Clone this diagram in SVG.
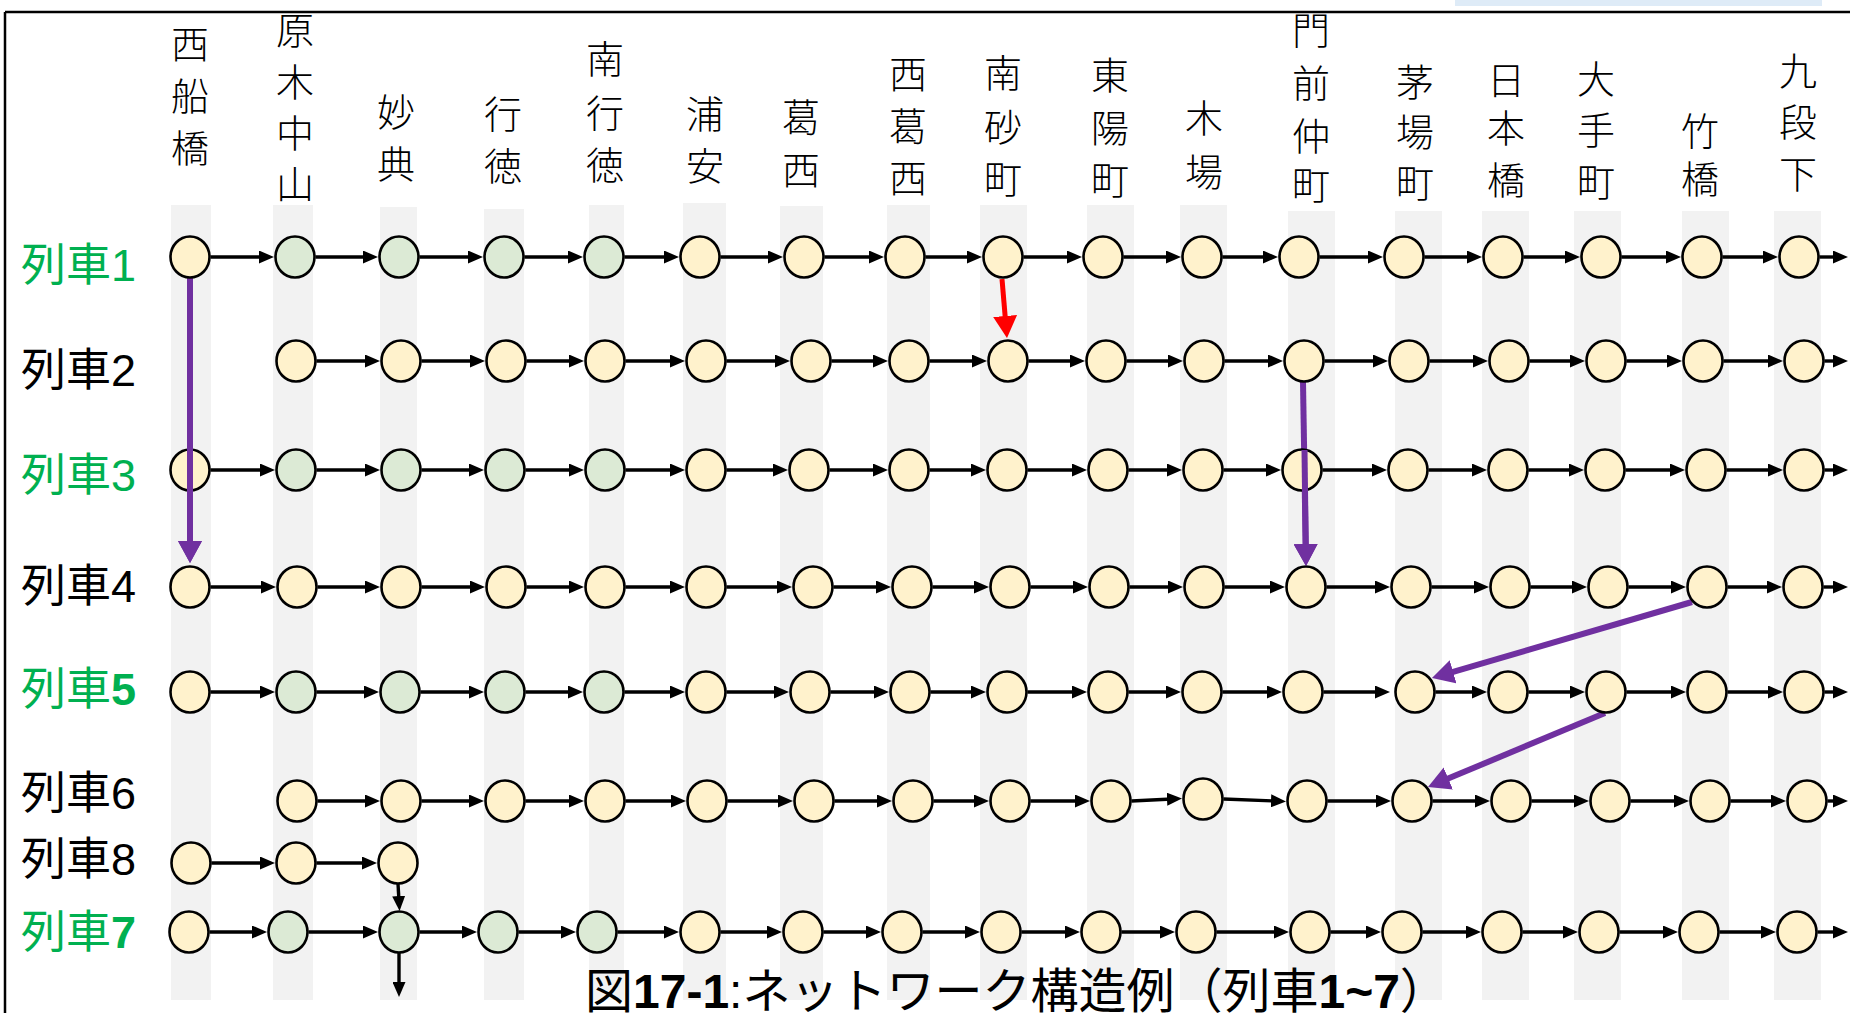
<svg xmlns="http://www.w3.org/2000/svg" width="1850" height="1013" viewBox="0 0 1850 1013">
<style>
.bg{fill:#F2F2F2}
.n{stroke:#000;stroke-width:2.6}
.y{fill:#FFF2CC}
.g{fill:#DCEAD5}
.a{stroke:#000;stroke-width:3.4;fill:none;marker-end:url(#ah)}
.p{stroke:#7030A0;stroke-width:6;fill:none;marker-end:url(#ahp)}
.r{stroke:#FF0000;stroke-width:5;fill:none;marker-end:url(#ahr)}
.st{font-family:"Noto Sans CJK JP","Noto Sans CJK SC",sans-serif;font-size:38px;font-weight:300;text-anchor:middle;fill:#000}
.tl{font-family:"Liberation Sans","Noto Sans CJK JP",sans-serif;font-size:45px;fill:#000}
.gr{fill:#00B050}
.cap{font-family:"Liberation Sans","Noto Sans CJK JP",sans-serif;font-size:48px;fill:#000}
</style>
<defs>
<marker id="ah" markerUnits="userSpaceOnUse" markerWidth="15" markerHeight="13" refX="5" refY="6.5" orient="auto" viewBox="0 0 15 13"><path d="M0,0 L15,6.5 L0,13 z" fill="#000"/></marker>
<marker id="ahp" markerUnits="userSpaceOnUse" markerWidth="22" markerHeight="24" refX="8" refY="12" orient="auto" viewBox="0 0 22 24"><path d="M0,0 L22,12 L0,24 z" fill="#7030A0"/></marker>
<marker id="ahr" markerUnits="userSpaceOnUse" markerWidth="22" markerHeight="24" refX="8" refY="12" orient="auto" viewBox="0 0 22 24"><path d="M0,0 L22,12 L0,24 z" fill="#FF0000"/></marker>
</defs>
<rect x="0" y="0" width="1850" height="1013" fill="#fff"/>
<rect x="1455" y="0" width="367" height="6" fill="#DEEBF7"/>
<g id="frame" stroke="#000" stroke-width="2.5" fill="none">
<line x1="5" y1="12" x2="1850" y2="12"/>
<line x1="5" y1="12" x2="5" y2="1013"/>
</g>
<g id="bands">
<rect class="bg" x="171" y="205" width="40" height="795"/>
<rect class="bg" x="273" y="205" width="40" height="795"/>
<rect class="bg" x="380" y="207" width="37" height="793"/>
<rect class="bg" x="484" y="209" width="40" height="791"/>
<rect class="bg" x="589" y="205" width="35" height="795"/>
<rect class="bg" x="683" y="203" width="43" height="797"/>
<rect class="bg" x="780" y="206" width="43" height="794"/>
<rect class="bg" x="887" y="205" width="43" height="795"/>
<rect class="bg" x="980" y="205" width="47" height="795"/>
<rect class="bg" x="1087" y="205" width="47" height="795"/>
<rect class="bg" x="1180" y="205" width="47" height="795"/>
<rect class="bg" x="1288" y="211" width="47" height="789"/>
<rect class="bg" x="1395" y="211" width="47" height="789"/>
<rect class="bg" x="1482" y="211" width="47" height="789"/>
<rect class="bg" x="1574" y="211" width="47" height="789"/>
<rect class="bg" x="1682" y="211" width="47" height="789"/>
<rect class="bg" x="1774" y="211" width="47" height="789"/>
</g>
<g id="stations">
<text class="st"><tspan x="190" y="58">西</tspan><tspan x="190" y="110">船</tspan><tspan x="190" y="162">橋</tspan></text>
<text class="st"><tspan x="295" y="44">原</tspan><tspan x="295" y="96">木</tspan><tspan x="295" y="147">中</tspan><tspan x="295" y="198">山</tspan></text>
<text class="st"><tspan x="396" y="126">妙</tspan><tspan x="396" y="178">典</tspan></text>
<text class="st"><tspan x="503" y="128">行</tspan><tspan x="503" y="180">徳</tspan></text>
<text class="st"><tspan x="605" y="73">南</tspan><tspan x="605" y="127">行</tspan><tspan x="605" y="179">徳</tspan></text>
<text class="st"><tspan x="705" y="128">浦</tspan><tspan x="705" y="180">安</tspan></text>
<text class="st"><tspan x="801" y="131">葛</tspan><tspan x="801" y="184">西</tspan></text>
<text class="st"><tspan x="908" y="88">西</tspan><tspan x="908" y="140">葛</tspan><tspan x="908" y="192">西</tspan></text>
<text class="st"><tspan x="1003" y="87">南</tspan><tspan x="1003" y="141">砂</tspan><tspan x="1003" y="193">町</tspan></text>
<text class="st"><tspan x="1110" y="89">東</tspan><tspan x="1110" y="142">陽</tspan><tspan x="1110" y="194">町</tspan></text>
<text class="st"><tspan x="1204" y="132">木</tspan><tspan x="1204" y="186">場</tspan></text>
<text class="st"><tspan x="1311" y="44">門</tspan><tspan x="1311" y="97">前</tspan><tspan x="1311" y="150">仲</tspan><tspan x="1311" y="199">町</tspan></text>
<text class="st"><tspan x="1415" y="96">茅</tspan><tspan x="1415" y="146">場</tspan><tspan x="1415" y="197">町</tspan></text>
<text class="st"><tspan x="1506" y="94">日</tspan><tspan x="1506" y="142">本</tspan><tspan x="1506" y="194">橋</tspan></text>
<text class="st"><tspan x="1596" y="93">大</tspan><tspan x="1596" y="144">手</tspan><tspan x="1596" y="196">町</tspan></text>
<text class="st"><tspan x="1700" y="145">竹</tspan><tspan x="1700" y="193">橋</tspan></text>
<text class="st"><tspan x="1798" y="85">九</tspan><tspan x="1798" y="136">段</tspan><tspan x="1798" y="188">下</tspan></text>
</g>
<g id="trains">
<text class="tl gr" x="21" y="281">列車1</text>
<text class="tl" x="21" y="386">列車2</text>
<text class="tl gr" x="21" y="491">列車3</text>
<text class="tl" x="21" y="602">列車4</text>
<text class="tl gr" x="21" y="705">列車<tspan font-weight="bold">5</tspan></text>
<text class="tl" x="21" y="809">列車6</text>
<text class="tl" x="21" y="875">列車8</text>
<text class="tl gr" x="21" y="948">列車<tspan font-weight="bold">7</tspan></text>
</g>
<g id="connectors">
<line class="a" x1="210.5" y1="257" x2="264" y2="257"/>
<line class="a" x1="315.5" y1="257" x2="368" y2="257"/>
<line class="a" x1="419.5" y1="257" x2="473" y2="257"/>
<line class="a" x1="524.5" y1="257" x2="573" y2="257"/>
<line class="a" x1="624.5" y1="257" x2="669" y2="257"/>
<line class="a" x1="720.5" y1="257" x2="773" y2="257"/>
<line class="a" x1="824.5" y1="257" x2="874" y2="257"/>
<line class="a" x1="925.5" y1="257" x2="972" y2="257"/>
<line class="a" x1="1023.5" y1="257" x2="1072" y2="257"/>
<line class="a" x1="1123.5" y1="257" x2="1171" y2="257"/>
<line class="a" x1="1222.5" y1="257" x2="1268" y2="257"/>
<line class="a" x1="1319.5" y1="257" x2="1373" y2="257"/>
<line class="a" x1="1424.5" y1="257" x2="1472" y2="257"/>
<line class="a" x1="1523.5" y1="257" x2="1570" y2="257"/>
<line class="a" x1="1621.5" y1="257" x2="1671" y2="257"/>
<line class="a" x1="1722.5" y1="257" x2="1768" y2="257"/>
<line class="a" x1="1819.5" y1="257" x2="1838" y2="257"/>

<line class="a" x1="316.5" y1="361" x2="370" y2="361"/>
<line class="a" x1="421.5" y1="361" x2="475" y2="361"/>
<line class="a" x1="526.5" y1="361" x2="574" y2="361"/>
<line class="a" x1="625.5" y1="361" x2="675" y2="361"/>
<line class="a" x1="726.5" y1="361" x2="780" y2="361"/>
<line class="a" x1="831.5" y1="361" x2="878" y2="361"/>
<line class="a" x1="929.5" y1="361" x2="977" y2="361"/>
<line class="a" x1="1028.5" y1="361" x2="1075" y2="361"/>
<line class="a" x1="1126.5" y1="361" x2="1173" y2="361"/>
<line class="a" x1="1224.5" y1="361" x2="1273" y2="361"/>
<line class="a" x1="1324.5" y1="361" x2="1378" y2="361"/>
<line class="a" x1="1429.5" y1="361" x2="1478" y2="361"/>
<line class="a" x1="1529.5" y1="361" x2="1575" y2="361"/>
<line class="a" x1="1626.5" y1="361" x2="1672" y2="361"/>
<line class="a" x1="1723.5" y1="361" x2="1773" y2="361"/>
<line class="a" x1="1824.5" y1="361" x2="1838" y2="361"/>

<line class="a" x1="210.5" y1="470" x2="265" y2="470"/>
<line class="a" x1="316.5" y1="470" x2="370" y2="470"/>
<line class="a" x1="421.5" y1="470" x2="474" y2="470"/>
<line class="a" x1="525.5" y1="470" x2="574" y2="470"/>
<line class="a" x1="625.5" y1="470" x2="675" y2="470"/>
<line class="a" x1="726.5" y1="470" x2="778" y2="470"/>
<line class="a" x1="829.5" y1="470" x2="878" y2="470"/>
<line class="a" x1="929.5" y1="470" x2="976" y2="470"/>
<line class="a" x1="1027.5" y1="470" x2="1077" y2="470"/>
<line class="a" x1="1128.5" y1="470" x2="1172" y2="470"/>
<line class="a" x1="1223.5" y1="470" x2="1271" y2="470"/>
<line class="a" x1="1322.5" y1="470" x2="1377" y2="470"/>
<line class="a" x1="1428.5" y1="470" x2="1477" y2="470"/>
<line class="a" x1="1528.5" y1="470" x2="1574" y2="470"/>
<line class="a" x1="1625.5" y1="470" x2="1675" y2="470"/>
<line class="a" x1="1726.5" y1="470" x2="1773" y2="470"/>
<line class="a" x1="1824.5" y1="470" x2="1838" y2="470"/>

<line class="a" x1="210.5" y1="587" x2="266" y2="587"/>
<line class="a" x1="317.5" y1="587" x2="370" y2="587"/>
<line class="a" x1="421.5" y1="587" x2="475" y2="587"/>
<line class="a" x1="526.5" y1="587" x2="574" y2="587"/>
<line class="a" x1="625.5" y1="587" x2="675" y2="587"/>
<line class="a" x1="726.5" y1="587" x2="782" y2="587"/>
<line class="a" x1="833.5" y1="587" x2="881" y2="587"/>
<line class="a" x1="932.5" y1="587" x2="979" y2="587"/>
<line class="a" x1="1030.5" y1="587" x2="1078" y2="587"/>
<line class="a" x1="1129.5" y1="587" x2="1173" y2="587"/>
<line class="a" x1="1224.5" y1="587" x2="1275" y2="587"/>
<line class="a" x1="1326.5" y1="587" x2="1380" y2="587"/>
<line class="a" x1="1431.5" y1="587" x2="1479" y2="587"/>
<line class="a" x1="1530.5" y1="587" x2="1577" y2="587"/>
<line class="a" x1="1628.5" y1="587" x2="1676" y2="587"/>
<line class="a" x1="1727.5" y1="587" x2="1772" y2="587"/>
<line class="a" x1="1823.5" y1="587" x2="1838" y2="587"/>

<line class="a" x1="210.5" y1="692" x2="265" y2="692"/>
<line class="a" x1="316.5" y1="692" x2="369" y2="692"/>
<line class="a" x1="420.5" y1="692" x2="474" y2="692"/>
<line class="a" x1="525.5" y1="692" x2="573" y2="692"/>
<line class="a" x1="624.5" y1="692" x2="675" y2="692"/>
<line class="a" x1="726.5" y1="692" x2="779" y2="692"/>
<line class="a" x1="830.5" y1="692" x2="879" y2="692"/>
<line class="a" x1="930.5" y1="692" x2="976" y2="692"/>
<line class="a" x1="1027.5" y1="692" x2="1077" y2="692"/>
<line class="a" x1="1128.5" y1="692" x2="1171" y2="692"/>
<line class="a" x1="1222.5" y1="692" x2="1272" y2="692"/>
<line class="a" x1="1323.5" y1="692" x2="1380" y2="692"/>
<line class="a" x1="1435.5" y1="692" x2="1477" y2="692"/>
<line class="a" x1="1528.5" y1="692" x2="1575" y2="692"/>
<line class="a" x1="1626.5" y1="692" x2="1676" y2="692"/>
<line class="a" x1="1727.5" y1="692" x2="1773" y2="692"/>
<line class="a" x1="1824.5" y1="692" x2="1838" y2="692"/>

<line class="a" x1="317.5" y1="801" x2="370" y2="801"/>
<line class="a" x1="421.5" y1="801" x2="474" y2="801"/>
<line class="a" x1="525.5" y1="801" x2="574" y2="801"/>
<line class="a" x1="625.5" y1="801" x2="676" y2="801"/>
<line class="a" x1="727.5" y1="801" x2="783" y2="801"/>
<line class="a" x1="834.5" y1="801" x2="882" y2="801"/>
<line class="a" x1="933.5" y1="801" x2="979" y2="801"/>
<line class="a" x1="1030.5" y1="801" x2="1080" y2="801"/>
<line class="a" x1="1131.5" y1="801" x2="1172" y2="799"/>
<line class="a" x1="1223.5" y1="799" x2="1276" y2="801"/>
<line class="a" x1="1327.5" y1="801" x2="1381" y2="801"/>
<line class="a" x1="1432.5" y1="801" x2="1480" y2="801"/>
<line class="a" x1="1531.5" y1="801" x2="1579" y2="801"/>
<line class="a" x1="1630.5" y1="801" x2="1679" y2="801"/>
<line class="a" x1="1730.5" y1="801" x2="1776" y2="801"/>
<line class="a" x1="1827.5" y1="801" x2="1838" y2="801"/>

<line class="a" x1="211.5" y1="863" x2="265" y2="863"/>
<line class="a" x1="316.5" y1="863" x2="367" y2="863"/>
<line class="a" x1="398" y1="884" x2="399" y2="901"/>

<line class="a" x1="209.5" y1="932" x2="257" y2="932"/>
<line class="a" x1="308.5" y1="932" x2="368" y2="932"/>
<line class="a" x1="419.5" y1="932" x2="467" y2="932"/>
<line class="a" x1="518.5" y1="932" x2="566" y2="932"/>
<line class="a" x1="617.5" y1="932" x2="669" y2="932"/>
<line class="a" x1="720.5" y1="932" x2="772" y2="932"/>
<line class="a" x1="823.5" y1="932" x2="871" y2="932"/>
<line class="a" x1="922.5" y1="932" x2="970" y2="932"/>
<line class="a" x1="1021.5" y1="932" x2="1070" y2="932"/>
<line class="a" x1="1121.5" y1="932" x2="1165" y2="932"/>
<line class="a" x1="1216.5" y1="932" x2="1279" y2="932"/>
<line class="a" x1="1330.5" y1="932" x2="1371" y2="932"/>
<line class="a" x1="1422.5" y1="932" x2="1471" y2="932"/>
<line class="a" x1="1522.5" y1="932" x2="1568" y2="932"/>
<line class="a" x1="1619.5" y1="932" x2="1668" y2="932"/>
<line class="a" x1="1719.5" y1="932" x2="1766" y2="932"/>
<line class="a" x1="1817.5" y1="932" x2="1838" y2="932"/>
<line class="a" x1="399" y1="953" x2="399" y2="987"/>

<line class="r" x1="1002" y1="279" x2="1005.8" y2="324"/>
<line class="p" x1="190" y1="278" x2="190" y2="549"/>
<line class="p" x1="1303" y1="382" x2="1305.8" y2="552"/>
<line class="p" x1="1692" y1="602" x2="1445.4" y2="674.1"/>
<line class="p" x1="1605" y1="713" x2="1440.9" y2="781.6"/>
</g>
<g id="r1">
<g id="n1-1"><ellipse class="n y" cx="190" cy="257" rx="19.5" ry="20.5"/></g>
<g id="n1-2"><ellipse class="n g" cx="295" cy="257" rx="19.5" ry="20.5"/></g>
<g id="n1-3"><ellipse class="n g" cx="399" cy="257" rx="19.5" ry="20.5"/></g>
<g id="n1-4"><ellipse class="n g" cx="504" cy="257" rx="19.5" ry="20.5"/></g>
<g id="n1-5"><ellipse class="n g" cx="604" cy="257" rx="19.5" ry="20.5"/></g>
<g id="n1-6"><ellipse class="n y" cx="700" cy="257" rx="19.5" ry="20.5"/></g>
<g id="n1-7"><ellipse class="n y" cx="804" cy="257" rx="19.5" ry="20.5"/></g>
<g id="n1-8"><ellipse class="n y" cx="905" cy="257" rx="19.5" ry="20.5"/></g>
<g id="n1-9"><ellipse class="n y" cx="1003" cy="257" rx="19.5" ry="20.5"/></g>
<g id="n1-10"><ellipse class="n y" cx="1103" cy="257" rx="19.5" ry="20.5"/></g>
<g id="n1-11"><ellipse class="n y" cx="1202" cy="257" rx="19.5" ry="20.5"/></g>
<g id="n1-12"><ellipse class="n y" cx="1299" cy="257" rx="19.5" ry="20.5"/></g>
<g id="n1-13"><ellipse class="n y" cx="1404" cy="257" rx="19.5" ry="20.5"/></g>
<g id="n1-14"><ellipse class="n y" cx="1503" cy="257" rx="19.5" ry="20.5"/></g>
<g id="n1-15"><ellipse class="n y" cx="1601" cy="257" rx="19.5" ry="20.5"/></g>
<g id="n1-16"><ellipse class="n y" cx="1702" cy="257" rx="19.5" ry="20.5"/></g>
<g id="n1-17"><ellipse class="n y" cx="1799" cy="257" rx="19.5" ry="20.5"/></g>
</g>
<g id="r2">
<g id="n2-2"><ellipse class="n y" cx="296" cy="361" rx="19.5" ry="20.5"/></g>
<g id="n2-3"><ellipse class="n y" cx="401" cy="361" rx="19.5" ry="20.5"/></g>
<g id="n2-4"><ellipse class="n y" cx="506" cy="361" rx="19.5" ry="20.5"/></g>
<g id="n2-5"><ellipse class="n y" cx="605" cy="361" rx="19.5" ry="20.5"/></g>
<g id="n2-6"><ellipse class="n y" cx="706" cy="361" rx="19.5" ry="20.5"/></g>
<g id="n2-7"><ellipse class="n y" cx="811" cy="361" rx="19.5" ry="20.5"/></g>
<g id="n2-8"><ellipse class="n y" cx="909" cy="361" rx="19.5" ry="20.5"/></g>
<g id="n2-9"><ellipse class="n y" cx="1008" cy="361" rx="19.5" ry="20.5"/></g>
<g id="n2-10"><ellipse class="n y" cx="1106" cy="361" rx="19.5" ry="20.5"/></g>
<g id="n2-11"><ellipse class="n y" cx="1204" cy="361" rx="19.5" ry="20.5"/></g>
<g id="n2-12"><ellipse class="n y" cx="1304" cy="361" rx="19.5" ry="20.5"/></g>
<g id="n2-13"><ellipse class="n y" cx="1409" cy="361" rx="19.5" ry="20.5"/></g>
<g id="n2-14"><ellipse class="n y" cx="1509" cy="361" rx="19.5" ry="20.5"/></g>
<g id="n2-15"><ellipse class="n y" cx="1606" cy="361" rx="19.5" ry="20.5"/></g>
<g id="n2-16"><ellipse class="n y" cx="1703" cy="361" rx="19.5" ry="20.5"/></g>
<g id="n2-17"><ellipse class="n y" cx="1804" cy="361" rx="19.5" ry="20.5"/></g>
</g>
<g id="r3">
<g id="n3-1"><ellipse class="n y" cx="190" cy="470" rx="19.5" ry="20.5"/></g>
<g id="n3-2"><ellipse class="n g" cx="296" cy="470" rx="19.5" ry="20.5"/></g>
<g id="n3-3"><ellipse class="n g" cx="401" cy="470" rx="19.5" ry="20.5"/></g>
<g id="n3-4"><ellipse class="n g" cx="505" cy="470" rx="19.5" ry="20.5"/></g>
<g id="n3-5"><ellipse class="n g" cx="605" cy="470" rx="19.5" ry="20.5"/></g>
<g id="n3-6"><ellipse class="n y" cx="706" cy="470" rx="19.5" ry="20.5"/></g>
<g id="n3-7"><ellipse class="n y" cx="809" cy="470" rx="19.5" ry="20.5"/></g>
<g id="n3-8"><ellipse class="n y" cx="909" cy="470" rx="19.5" ry="20.5"/></g>
<g id="n3-9"><ellipse class="n y" cx="1007" cy="470" rx="19.5" ry="20.5"/></g>
<g id="n3-10"><ellipse class="n y" cx="1108" cy="470" rx="19.5" ry="20.5"/></g>
<g id="n3-11"><ellipse class="n y" cx="1203" cy="470" rx="19.5" ry="20.5"/></g>
<g id="n3-12"><ellipse class="n y" cx="1302" cy="470" rx="19.5" ry="20.5"/></g>
<g id="n3-13"><ellipse class="n y" cx="1408" cy="470" rx="19.5" ry="20.5"/></g>
<g id="n3-14"><ellipse class="n y" cx="1508" cy="470" rx="19.5" ry="20.5"/></g>
<g id="n3-15"><ellipse class="n y" cx="1605" cy="470" rx="19.5" ry="20.5"/></g>
<g id="n3-16"><ellipse class="n y" cx="1706" cy="470" rx="19.5" ry="20.5"/></g>
<g id="n3-17"><ellipse class="n y" cx="1804" cy="470" rx="19.5" ry="20.5"/></g>
</g>
<g id="r4">
<g id="n4-1"><ellipse class="n y" cx="190" cy="587" rx="19.5" ry="20.5"/></g>
<g id="n4-2"><ellipse class="n y" cx="297" cy="587" rx="19.5" ry="20.5"/></g>
<g id="n4-3"><ellipse class="n y" cx="401" cy="587" rx="19.5" ry="20.5"/></g>
<g id="n4-4"><ellipse class="n y" cx="506" cy="587" rx="19.5" ry="20.5"/></g>
<g id="n4-5"><ellipse class="n y" cx="605" cy="587" rx="19.5" ry="20.5"/></g>
<g id="n4-6"><ellipse class="n y" cx="706" cy="587" rx="19.5" ry="20.5"/></g>
<g id="n4-7"><ellipse class="n y" cx="813" cy="587" rx="19.5" ry="20.5"/></g>
<g id="n4-8"><ellipse class="n y" cx="912" cy="587" rx="19.5" ry="20.5"/></g>
<g id="n4-9"><ellipse class="n y" cx="1010" cy="587" rx="19.5" ry="20.5"/></g>
<g id="n4-10"><ellipse class="n y" cx="1109" cy="587" rx="19.5" ry="20.5"/></g>
<g id="n4-11"><ellipse class="n y" cx="1204" cy="587" rx="19.5" ry="20.5"/></g>
<g id="n4-12"><ellipse class="n y" cx="1306" cy="587" rx="19.5" ry="20.5"/></g>
<g id="n4-13"><ellipse class="n y" cx="1411" cy="587" rx="19.5" ry="20.5"/></g>
<g id="n4-14"><ellipse class="n y" cx="1510" cy="587" rx="19.5" ry="20.5"/></g>
<g id="n4-15"><ellipse class="n y" cx="1608" cy="587" rx="19.5" ry="20.5"/></g>
<g id="n4-16"><ellipse class="n y" cx="1707" cy="587" rx="19.5" ry="20.5"/></g>
<g id="n4-17"><ellipse class="n y" cx="1803" cy="587" rx="19.5" ry="20.5"/></g>
</g>
<g id="r5">
<g id="n5-1"><ellipse class="n y" cx="190" cy="692" rx="19.5" ry="20.5"/></g>
<g id="n5-2"><ellipse class="n g" cx="296" cy="692" rx="19.5" ry="20.5"/></g>
<g id="n5-3"><ellipse class="n g" cx="400" cy="692" rx="19.5" ry="20.5"/></g>
<g id="n5-4"><ellipse class="n g" cx="505" cy="692" rx="19.5" ry="20.5"/></g>
<g id="n5-5"><ellipse class="n g" cx="604" cy="692" rx="19.5" ry="20.5"/></g>
<g id="n5-6"><ellipse class="n y" cx="706" cy="692" rx="19.5" ry="20.5"/></g>
<g id="n5-7"><ellipse class="n y" cx="810" cy="692" rx="19.5" ry="20.5"/></g>
<g id="n5-8"><ellipse class="n y" cx="910" cy="692" rx="19.5" ry="20.5"/></g>
<g id="n5-9"><ellipse class="n y" cx="1007" cy="692" rx="19.5" ry="20.5"/></g>
<g id="n5-10"><ellipse class="n y" cx="1108" cy="692" rx="19.5" ry="20.5"/></g>
<g id="n5-11"><ellipse class="n y" cx="1202" cy="692" rx="19.5" ry="20.5"/></g>
<g id="n5-12"><ellipse class="n y" cx="1303" cy="692" rx="19.5" ry="20.5"/></g>
<g id="n5-13"><ellipse class="n y" cx="1415" cy="692" rx="19.5" ry="20.5"/></g>
<g id="n5-14"><ellipse class="n y" cx="1508" cy="692" rx="19.5" ry="20.5"/></g>
<g id="n5-15"><ellipse class="n y" cx="1606" cy="692" rx="19.5" ry="20.5"/></g>
<g id="n5-16"><ellipse class="n y" cx="1707" cy="692" rx="19.5" ry="20.5"/></g>
<g id="n5-17"><ellipse class="n y" cx="1804" cy="692" rx="19.5" ry="20.5"/></g>
</g>
<g id="r6">
<g id="n6-2"><ellipse class="n y" cx="297" cy="801" rx="19.5" ry="20.5"/></g>
<g id="n6-3"><ellipse class="n y" cx="401" cy="801" rx="19.5" ry="20.5"/></g>
<g id="n6-4"><ellipse class="n y" cx="505" cy="801" rx="19.5" ry="20.5"/></g>
<g id="n6-5"><ellipse class="n y" cx="605" cy="801" rx="19.5" ry="20.5"/></g>
<g id="n6-6"><ellipse class="n y" cx="707" cy="801" rx="19.5" ry="20.5"/></g>
<g id="n6-7"><ellipse class="n y" cx="814" cy="801" rx="19.5" ry="20.5"/></g>
<g id="n6-8"><ellipse class="n y" cx="913" cy="801" rx="19.5" ry="20.5"/></g>
<g id="n6-9"><ellipse class="n y" cx="1010" cy="801" rx="19.5" ry="20.5"/></g>
<g id="n6-10"><ellipse class="n y" cx="1111" cy="801" rx="19.5" ry="20.5"/></g>
<g id="n6-11"><ellipse class="n y" cx="1203" cy="799" rx="19.5" ry="20.5"/></g>
<g id="n6-12"><ellipse class="n y" cx="1307" cy="801" rx="19.5" ry="20.5"/></g>
<g id="n6-13"><ellipse class="n y" cx="1412" cy="801" rx="19.5" ry="20.5"/></g>
<g id="n6-14"><ellipse class="n y" cx="1511" cy="801" rx="19.5" ry="20.5"/></g>
<g id="n6-15"><ellipse class="n y" cx="1610" cy="801" rx="19.5" ry="20.5"/></g>
<g id="n6-16"><ellipse class="n y" cx="1710" cy="801" rx="19.5" ry="20.5"/></g>
<g id="n6-17"><ellipse class="n y" cx="1807" cy="801" rx="19.5" ry="20.5"/></g>
</g>
<g id="r8">
<g id="n8-1"><ellipse class="n y" cx="191" cy="863" rx="19.5" ry="20.5"/></g>
<g id="n8-2"><ellipse class="n y" cx="296" cy="863" rx="19.5" ry="20.5"/></g>
<g id="n8-3"><ellipse class="n y" cx="398" cy="863" rx="19.5" ry="20.5"/></g>
</g>
<g id="r7">
<g id="n7-1"><ellipse class="n y" cx="189" cy="932" rx="19.5" ry="20.5"/></g>
<g id="n7-2"><ellipse class="n g" cx="288" cy="932" rx="19.5" ry="20.5"/></g>
<g id="n7-3"><ellipse class="n g" cx="399" cy="932" rx="19.5" ry="20.5"/></g>
<g id="n7-4"><ellipse class="n g" cx="498" cy="932" rx="19.5" ry="20.5"/></g>
<g id="n7-5"><ellipse class="n g" cx="597" cy="932" rx="19.5" ry="20.5"/></g>
<g id="n7-6"><ellipse class="n y" cx="700" cy="932" rx="19.5" ry="20.5"/></g>
<g id="n7-7"><ellipse class="n y" cx="803" cy="932" rx="19.5" ry="20.5"/></g>
<g id="n7-8"><ellipse class="n y" cx="902" cy="932" rx="19.5" ry="20.5"/></g>
<g id="n7-9"><ellipse class="n y" cx="1001" cy="932" rx="19.5" ry="20.5"/></g>
<g id="n7-10"><ellipse class="n y" cx="1101" cy="932" rx="19.5" ry="20.5"/></g>
<g id="n7-11"><ellipse class="n y" cx="1196" cy="932" rx="19.5" ry="20.5"/></g>
<g id="n7-12"><ellipse class="n y" cx="1310" cy="932" rx="19.5" ry="20.5"/></g>
<g id="n7-13"><ellipse class="n y" cx="1402" cy="932" rx="19.5" ry="20.5"/></g>
<g id="n7-14"><ellipse class="n y" cx="1502" cy="932" rx="19.5" ry="20.5"/></g>
<g id="n7-15"><ellipse class="n y" cx="1599" cy="932" rx="19.5" ry="20.5"/></g>
<g id="n7-16"><ellipse class="n y" cx="1699" cy="932" rx="19.5" ry="20.5"/></g>
<g id="n7-17"><ellipse class="n y" cx="1797" cy="932" rx="19.5" ry="20.5"/></g>
</g>
<g id="overlay-arrows">
<line class="p" x1="190" y1="440" x2="190" y2="549"/>
<line class="p" x1="1304.5" y1="450" x2="1305.8" y2="552"/>
</g>
<text class="cap" x="585" y="1008">図<tspan font-weight="bold">17-1</tspan>:ネットワーク構造例（列車<tspan font-weight="bold">1~7</tspan>）</text>
</svg>
